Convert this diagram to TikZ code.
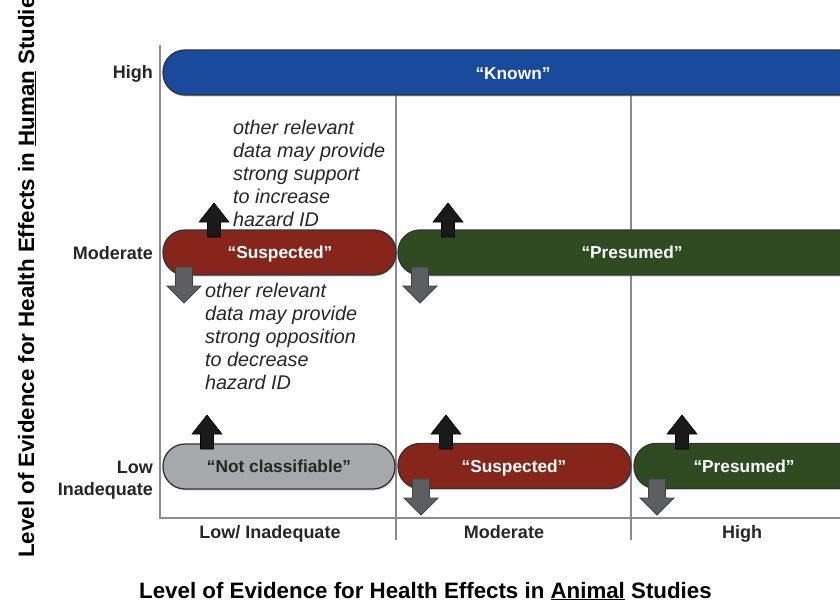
\documentclass[tikz,border=0pt]{standalone}
\usepackage{fontspec}
\setmainfont{Liberation Sans}
\usetikzlibrary{shadows}
\definecolor{knownblue}{HTML}{1A4A9C}
\definecolor{suspred}{HTML}{86261A}
\definecolor{presgreen}{HTML}{304A22}
\definecolor{ncgray}{HTML}{A6A8AB}
\definecolor{downgray}{HTML}{5C5E60}
\definecolor{upblack}{HTML}{1A1A1A}
\definecolor{gridgray}{HTML}{8C8C8C}
\definecolor{txtdark}{HTML}{262626}
\begin{document}
\begin{tikzpicture}[x=1pt,y=-1pt,
  bar/.style={rectangle, rounded corners=22pt, minimum height=45pt, inner sep=0pt,
    draw=black!80, line width=1.3pt,
    drop shadow={shadow xshift=1pt,shadow yshift=-1.5pt,opacity=0.3}},
  bartxt/.style={font=\fontsize{17.3}{20}\selectfont\bfseries, text=white, anchor=base, inner sep=0pt},
  lvl/.style={font=\fontsize{18}{22}\selectfont\bfseries, text=txtdark, inner sep=0pt},
  note/.style={font=\fontsize{19.8}{23}\selectfont\itshape, align=left, inner sep=0pt, anchor=north west, text=txtdark},
  uparr/.style={fill=upblack, draw=black, line width=0.6pt},
  downarr/.style={fill=downgray, draw=black!75, line width=0.8pt},
  gline/.style={draw=gridgray, line width=1.5pt},
  axisline/.style={draw=gridgray, line width=2.2pt},
  axtitle/.style={font=\fontsize{22.3}{25}\selectfont\bfseries, text=black, inner sep=0pt},
  uparrowpic/.pic={\path[uparr] (0,0) -- (15,19) -- (6.5,19) -- (6.5,34) -- (-6.5,34) -- (-6.5,19) -- (-15,19) -- cycle;},
  downarrowpic/.pic={\path[downarr] (0,0) -- (17,-17) -- (8.5,-17) -- (8.5,-36) -- (-8.5,-36) -- (-8.5,-17) -- (-17,-17) -- cycle;}
]
\useasboundingbox (0,0) rectangle (840,602);

% grid lines
\coordinate (g1t) at (396,95); \coordinate (g1b) at (396,540);
\coordinate (g2t) at (631,95); \coordinate (g2b) at (631,540);
\draw[gline] (g1t) -- (g1b);
\draw[gline] (g2t) -- (g2b);

% axes
\coordinate (ytop) at (160,45); \coordinate (origin) at (160,518); \coordinate (xend) at (850,518);
\draw[axisline] (ytop) -- (origin) -- (xend);

% bars
\node[bar, fill=knownblue, minimum width=700pt] (known) at (513,72.5) {};
\node[bartxt] (knownT) at (513,79) {“Known”};

\node[bar, fill=suspred, minimum width=233pt] (suspM) at (279.5,252.5) {};
\node[bartxt] (suspMT) at (280,258.5) {“Suspected”};

\node[bar, fill=presgreen, minimum width=468pt] (presM) at (632,252.5) {};
\node[bartxt] (presMT) at (632,258.5) {“Presumed”};

\node[bar, fill=ncgray, minimum width=232pt] (nc) at (279,466.5) {};
\node[bartxt, text=txtdark] (ncT) at (279,472.5) {“Not classifiable”};

\node[bar, fill=suspred, minimum width=233pt] (suspL) at (514.5,466) {};
\node[bartxt] (suspLT) at (514,472) {“Suspected”};

\node[bar, fill=presgreen, minimum width=236pt] (presL) at (752,466) {};
\node[bartxt] (presLT) at (744,472) {“Presumed”};

% arrows
\pic at (214,203) {uparrowpic};
\pic at (184,303) {downarrowpic};
\pic at (448,203) {uparrowpic};
\pic at (420,303) {downarrowpic};
\pic at (207,415) {uparrowpic};
\pic at (446,415) {uparrowpic};
\pic at (421,515) {downarrowpic};
\pic at (682,415) {uparrowpic};
\pic at (657,515) {downarrowpic};

% notes
\node[note] (noteUp) at (233,120) {other relevant\\data may provide\\strong support\\to increase\\hazard ID};
\node[note] (noteDown) at (205,283) {other relevant\\data may provide\\strong opposition\\to decrease\\hazard ID};

% level labels (y)
\node[lvl, anchor=base east] (yHigh) at (153,78.5) {High};
\node[lvl, anchor=base east] (yMod) at (153,259) {Moderate};
\node[lvl, anchor=base east] (yLow) at (153,473) {Low};
\node[lvl, anchor=base east] (yInad) at (153,495) {Inadequate};

% level labels (x)
\node[lvl, anchor=base] (xLow) at (270,538.5) {Low/ Inadequate};
\node[lvl, anchor=base] (xMod) at (504,538.5) {Moderate};
\node[lvl, anchor=base] (xHigh) at (742,538.5) {High};

% axis titles
\node[axtitle, anchor=base west] (xtitle) at (139,598) {Level of Evidence for Health Effects in \underline{Animal} Studies};
\node[axtitle, anchor=base west, rotate=90] (ytitle) at (34,558) {Level of Evidence for Health Effects in \underline{Human} Studies};
\end{tikzpicture}
\end{document}
